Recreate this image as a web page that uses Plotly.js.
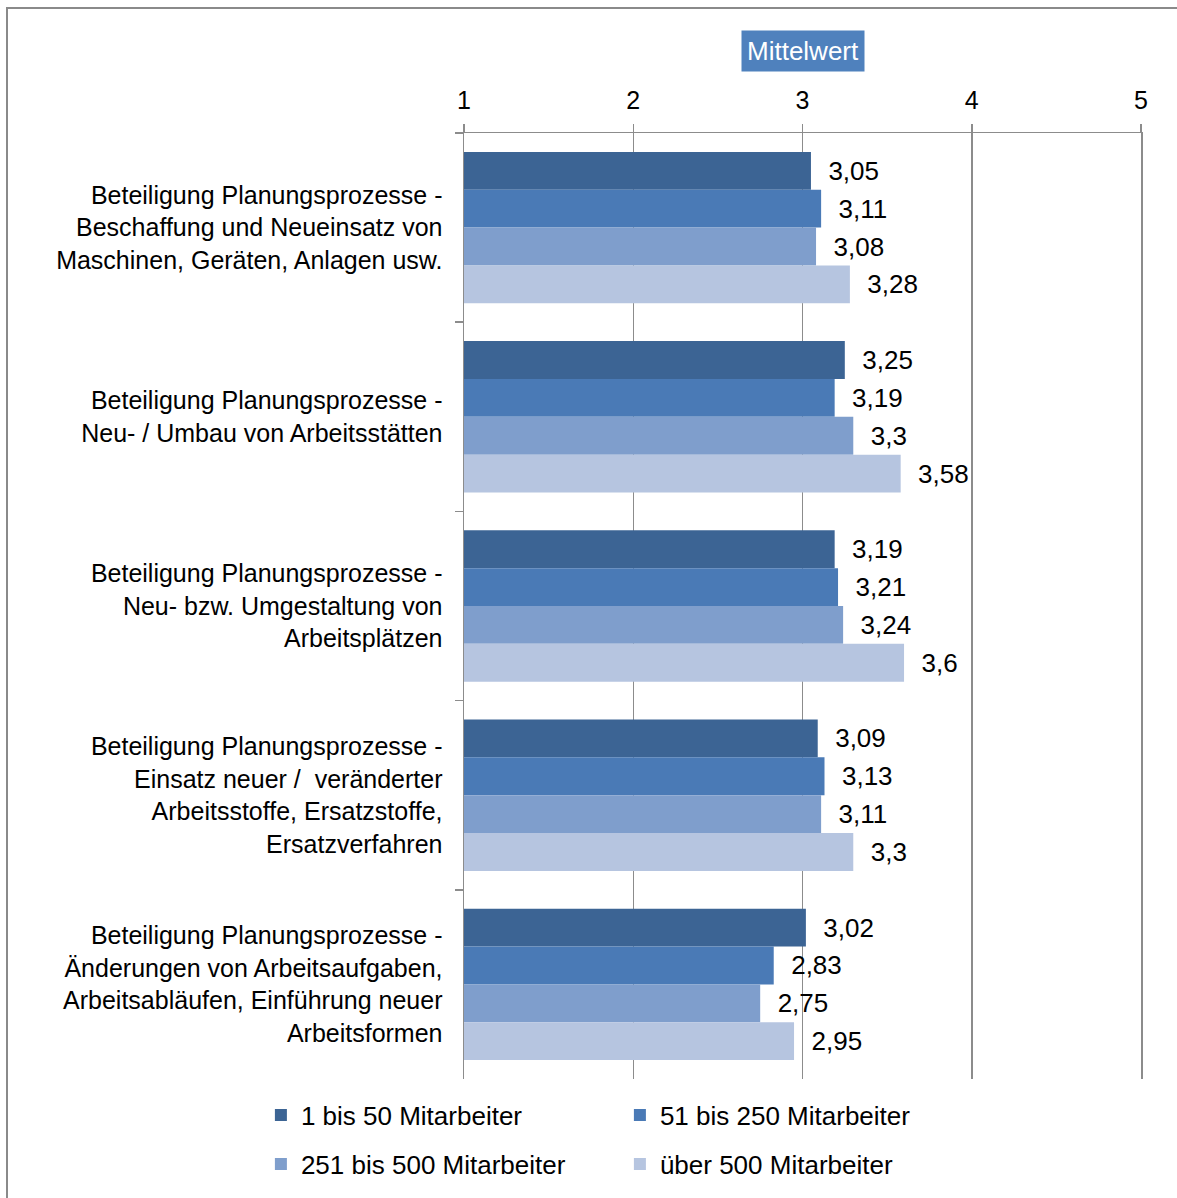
<!DOCTYPE html>
<html><head><meta charset="utf-8">
<script src="https://cdn.plot.ly/plotly-3.0.1.min.js"></script>
<style>
html,body{margin:0;padding:0;background:#fff;}
#wrap{position:relative;width:1177px;height:1198px;overflow:hidden;}
#chart{position:absolute;left:0;top:0;width:1177px;height:1198px;}
#frame{position:absolute;left:6px;top:7px;width:1300px;height:1300px;border-left:2px solid #8a8a8a;border-top:2px solid #8a8a8a;pointer-events:none;}
</style>
</head><body>
<div id="wrap"><div id="chart"></div><div id="frame"></div></div>
<script>
const categories = [
  "Beteiligung Planungsprozesse -<br>Beschaffung und Neueinsatz von<br>Maschinen, Geräten, Anlagen usw.",
  "Beteiligung Planungsprozesse -<br>Neu- / Umbau von Arbeitsstätten",
  "Beteiligung Planungsprozesse -<br>Neu- bzw. Umgestaltung von<br>Arbeitsplätzen",
  "Beteiligung Planungsprozesse -<br>Einsatz neuer /  veränderter<br>Arbeitsstoffe, Ersatzstoffe,<br>Ersatzverfahren",
  "Beteiligung Planungsprozesse -<br>Änderungen von Arbeitsaufgaben,<br>Arbeitsabläufen, Einführung neuer<br>Arbeitsformen"
];
const seriesNames = ["1 bis 50 Mitarbeiter", "51 bis 250 Mitarbeiter", "251 bis 500 Mitarbeiter", "über 500 Mitarbeiter"];
const s1 = [3.05, 3.25, 3.19, 3.09, 3.02];
const s2 = [3.11, 3.19, 3.21, 3.13, 2.83];
const s3 = [3.08, 3.3, 3.24, 3.11, 2.75];
const s4 = [3.28, 3.58, 3.6, 3.3, 2.95];
const xTicks = [1, 2, 3, 4, 5];
const titleText = "Mittelwert";

const colors = ["#3C6494", "#4A7AB6", "#7F9ECC", "#B6C5E0"];
const FONT = "Liberation Sans, Arial, sans-serif";
const FS = 26;
const series = [s1, s2, s3, s4];
const legendIds = ["legend", "legend", "legend2", "legend2"];

const traces = series.map((vals, i) => ({
  type: "bar",
  orientation: "h",
  name: seriesNames[i],
  x: vals,
  y: categories,
  marker: {color: colors[i], line: {width: 0}},
  text: vals.map(v => "\u00a0\u00a0" + String(v).replace(".", ",")),
  textposition: "outside",
  textfont: {family: FONT, size: FS, color: "#000"},
  cliponaxis: false,
  hoverinfo: "skip",
  legend: legendIds[i]
}));

const legendBase = {
  orientation: "h", x: -0.30, xanchor: "left", yanchor: "middle",
  entrywidth: 314, entrywidthmode: "pixels",
  font: {family: FONT, size: FS, color: "#000"}, bgcolor: "rgba(0,0,0,0)",
  itemclick: false, itemdoubleclick: false
};

const layout = {
  width: 1177, height: 1198,
  margin: {l: 464, r: 36, t: 133, b: 118, pad: 0},
  paper_bgcolor: "rgba(0,0,0,0)",
  plot_bgcolor: "#fff",
  font: {family: FONT, size: FS, color: "#000"},
  barmode: "group",
  bargap: 0.2,
  bargroupgap: 0,
  xaxis: {
    side: "top", range: [1, 5], tickvals: xTicks, ticktext: xTicks.map(String),
    showgrid: true, gridcolor: "#8c8c8c", gridwidth: 1.5,
    showline: true, linecolor: "#8c8c8c", linewidth: 1.5,
    ticks: "outside", ticklen: 8, tickcolor: "#8c8c8c", tickwidth: 1.5,
    ticklabelstandoff: 5,
    zeroline: false, fixedrange: true,
    tickfont: {family: FONT, size: 25, color: "#000"}
  },
  yaxis: {
    type: "category", autorange: "reversed",
    showline: true, mirror: true, linecolor: "#8c8c8c", linewidth: 1.5,
    ticks: "outside", tickson: "boundaries", ticklen: 8, tickcolor: "#8c8c8c", tickwidth: 1.5,
    ticklabelstandoff: 15,
    showgrid: false, zeroline: false, fixedrange: true,
    tickfont: {family: FONT, size: 25, color: "#000"}
  },
  showlegend: true,
  legend: Object.assign({}, legendBase, {y: -0.037}),
  legend2: Object.assign({}, legendBase, {y: -0.0887}),
  annotations: [{
    text: titleText, xref: "x", x: 3, yref: "paper", y: 1.0866,
    xanchor: "center", yanchor: "middle", showarrow: false,
    bgcolor: "#4F81BD", borderpad: 5,
    font: {family: FONT, size: FS, color: "#fff"}
  }]
};

Plotly.newPlot("chart", traces, layout, {displayModeBar: false, staticPlot: true});
</script>
</body></html>
